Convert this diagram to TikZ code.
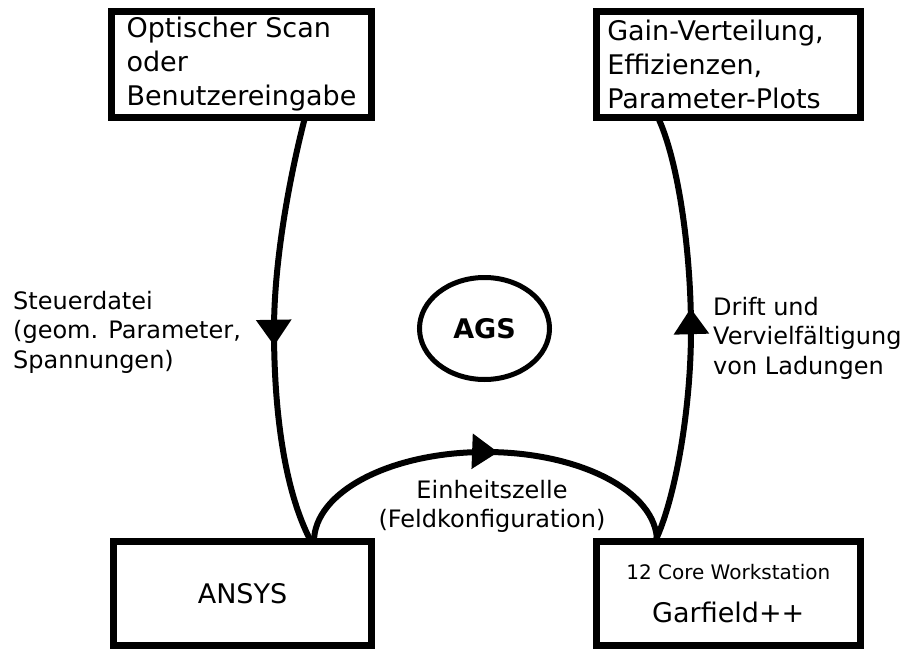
\documentclass[tikz,border=0pt]{standalone}
\usepackage{fontspec}
\setmainfont{DejaVu Sans}
\usetikzlibrary{arrows.meta,decorations.markings,shapes.geometric}
\begin{document}
\begin{tikzpicture}[x=1pt,y=-1pt,
  box/.style={draw, line width=7pt, rectangle, outer sep=0pt,
    font=\fontsize{27}{34}\selectfont},
  flow/.style={line width=6pt, postaction={decorate},
    decoration={markings, mark=at position #1 with
      {\arrow{Triangle[width=34pt,length=26pt]}}}},
  lbl/.style={inner sep=0pt, font=\fontsize{24}{29.5}\selectfont}]
\useasboundingbox (0,0) rectangle (905,650);

% the four boxes
\node[box, minimum width=260pt, minimum height=106pt, align=left]
  (scan) at (241.5,64.5) {Optischer Scan\\oder\\Benutzereingabe};
\node[box, minimum width=263.5pt, minimum height=106pt, text width=242pt,
  inner xsep=10.5pt, align=left]
  (plots) at (728.25,64.5) {Gain-Verteilung,\\Effizienzen,\\Parameter-Plots};
\node[box, minimum width=258pt, minimum height=103.5pt]
  (ansys) at (242.5,593.25) {ANSYS};
\node[box, minimum width=263.5pt, minimum height=103.5pt, align=center]
  (garfield) at (728.25,593.25)
  {{\fontsize{20}{24}\selectfont 12 Core Workstation}\\[9pt]Garfield++};

% central ellipse
\node[draw, ellipse, line width=5pt, minimum width=130pt, minimum height=102pt,
  font=\fontsize{27}{34}\selectfont\bfseries] (ags) at (484.5,328.5) {AGS};

% connector labels
\node[lbl, anchor=north west, align=left] (steuer) at (13,291)
  {Steuerdatei\\(geom. Parameter,\\Spannungen)};
\node[lbl, anchor=north west, align=left] (drift) at (713,297)
  {Drift und\\Vervielfältigung\\von Ladungen};
\node[lbl, anchor=north, align=center] (einheit) at (492,480)
  {Einheitszelle\\(Feldkonfiguration)};

% connectors
\draw[flow=0.535] ([xshift=63.5pt]scan.south)
  .. controls (290,175) and (274,260) .. (274,330)
  .. controls (274,410) and (284,490) .. ([xshift=68.5pt]ansys.north);
\draw[flow=0.53] ([xshift=71.5pt]ansys.north)
  .. controls (314,491.8) and (390.8,452) .. (485.5,452)
  .. controls (580.2,452) and (657,491.8) .. ([xshift=-71.25pt]garfield.north);
\draw[flow=0.55] ([xshift=-73.25pt]garfield.north)
  .. controls (675,500) and (691,410) .. (691,330)
  .. controls (691,250) and (678,160) .. ([xshift=-70.25pt]plots.south);
\end{tikzpicture}
\end{document}
